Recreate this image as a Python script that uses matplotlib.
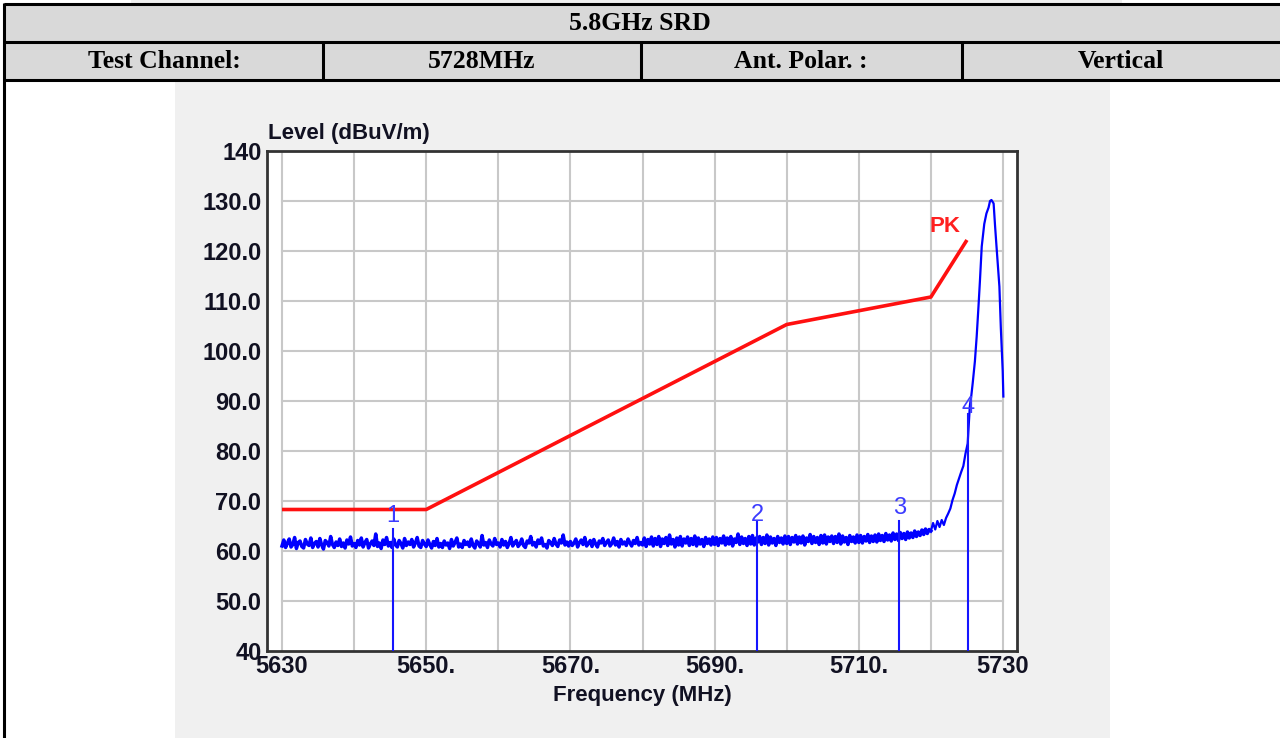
import numpy as np
import matplotlib
matplotlib.use("Agg")
import matplotlib.pyplot as plt
from matplotlib.patches import Rectangle

# ---------------- data ----------------
header_title = "5.8GHz SRD"
header_cells = ["Test Channel:", "5728MHz", "Ant. Polar. :", "Vertical"]

x_ticks = [5630, 5650, 5670, 5690, 5710, 5730]
x_tick_labels = ["5630", "5650.", "5670.", "5690.", "5710.", "5730"]
y_ticks = [40, 50, 60, 70, 80, 90, 100, 110, 120, 130, 140]
y_tick_labels = ["40", "50.0", "60.0", "70.0", "80.0", "90.0", "100.0",
                 "110.0", "120.0", "130.0", "140"]

# limit line (PK)
limit_freq = [5630, 5650, 5700, 5720, 5725]
limit_level = [68.3, 68.3, 105.3, 110.8, 122.2]

# measured trace: noise floor, 0.25 MHz sweep step, 5630 .. 5719.75 MHz
noise_start, noise_step = 5630.0, 0.25
noise_level = [
    61.0, 62.2, 60.7, 61.6, 62.4, 60.8, 61.3, 62.7, 60.5, 61.7,
    62.0, 60.9, 60.6, 62.3, 61.4, 61.1, 62.6, 60.7, 61.5, 61.9,
    60.8, 62.5, 61.2, 60.4, 62.1, 61.7, 61.0, 62.9, 61.3, 60.7,
    61.8, 61.1, 62.4, 60.9, 61.6, 60.6, 62.2, 61.4, 62.8, 61.0,
    61.5, 60.7, 62.1, 61.2, 62.6, 60.8, 61.7, 62.3, 60.6, 61.4,
    62.0, 61.1, 63.4, 60.9, 61.6, 60.5, 62.2, 61.3, 62.7, 61.0,
    61.7, 60.7, 62.4, 61.2, 60.8, 62.1, 61.5, 60.6, 62.5, 61.1,
    61.8, 61.3, 62.3, 60.8, 61.6, 62.7, 61.0, 60.7, 62.1, 61.4,
    60.9, 62.2, 61.3, 60.6, 61.9, 61.1, 62.5, 60.8, 61.5, 60.7,
    62.0, 61.2, 61.6, 60.5, 62.3, 61.0, 61.7, 62.6, 60.8, 61.4,
    60.7, 62.1, 61.3, 61.8, 60.9, 62.4, 61.1, 60.6, 62.0, 61.5,
    60.8, 63.1, 61.2, 61.7, 60.7, 62.2, 61.4, 61.0, 62.5, 61.3,
    61.6, 60.8, 62.3, 61.2, 61.9, 60.7, 61.5, 62.7, 61.0, 61.6,
    62.1, 60.9, 61.4, 62.4, 61.1, 60.7, 62.0, 61.6, 62.9, 61.2,
    61.7, 60.8, 62.2, 61.5, 62.6, 61.0, 61.3, 60.6, 62.1, 61.7,
    61.1, 62.5, 61.4, 60.9, 62.2, 61.6, 63.2, 61.2, 61.8, 61.0,
    61.9, 61.1, 61.6, 62.4, 60.8, 61.7, 62.2, 61.3, 62.7, 61.0,
    61.5, 62.1, 60.9, 62.3, 61.4, 60.8, 62.0, 61.6, 62.5, 61.1,
    61.7, 62.2, 61.0, 61.5, 62.6, 61.2, 61.9, 60.8, 62.3, 61.4,
    61.8, 61.1, 62.4, 61.6, 61.0, 62.1, 61.5, 62.7, 61.2, 61.7,
    61.2, 62.6, 60.9, 62.3, 61.4, 62.8, 61.0, 62.5, 61.3, 62.9,
    60.9, 62.4, 61.5, 62.7, 61.1, 63.2, 61.4, 62.3, 60.8, 62.6,
    61.2, 62.9, 61.0, 62.4, 61.6, 62.8, 61.1, 62.5, 61.3, 63.0,
    61.0, 62.6, 61.4, 62.3, 60.9, 62.7, 61.5, 62.4, 61.2, 62.8,
    61.3, 62.7, 61.1, 62.5, 61.6, 63.0, 61.2, 62.6, 61.4, 62.9,
    61.0, 62.4, 61.7, 63.4, 61.3, 62.8, 61.5, 62.5, 61.1, 62.9,
    61.4, 63.1, 61.2, 62.6, 61.8, 62.9, 61.3, 62.7, 61.5, 63.2,
    61.2, 62.8, 61.6, 62.5, 61.1, 62.9, 61.7, 62.6, 61.4, 63.0,
    61.5, 62.9, 61.3, 62.7, 61.8, 63.1, 61.4, 62.8, 61.6, 63.0,
    61.2, 62.6, 61.9, 63.3, 61.5, 62.9, 61.7, 62.7, 61.3, 63.1,
    61.6, 63.2, 61.4, 62.8, 61.9, 63.0, 61.5, 62.9, 61.7, 63.4,
    61.4, 63.0, 61.8, 62.7, 61.3, 63.1, 61.9, 62.8, 61.6, 63.2,
    61.7, 63.1, 61.6, 62.9, 62.0, 63.3, 61.7, 63.0, 61.9, 63.2,
    61.8, 63.4, 62.1, 63.1, 61.9, 63.5, 62.2, 63.2, 62.0, 63.6,
    62.3, 63.4, 62.1, 63.7, 62.5, 63.5, 62.3, 63.8, 62.6, 63.6,
    62.7, 64.0, 62.9, 63.8, 63.1, 64.2, 63.3, 64.4, 63.5, 64.3,
]

# measured trace: carrier skirt and peak
peak_freq = [5720.0, 5720.3, 5720.6, 5720.9, 5721.2, 5721.5, 5721.8, 5722.1,
             5722.4, 5722.7, 5723.0, 5723.3, 5723.6, 5723.9, 5724.2, 5724.5,
             5724.8, 5725.1, 5725.4, 5725.6, 5725.8, 5726.1, 5726.35, 5726.6,
             5726.8, 5727.05, 5727.4, 5727.7, 5728.0, 5728.2, 5728.4, 5728.7,
             5728.9, 5729.1, 5729.5, 5729.7, 5729.96, 5730.05]
peak_level = [64.0, 65.6, 64.3, 66.0, 64.8, 66.2, 65.2, 66.6,
              67.5, 68.5, 70.2, 71.5, 73.2, 74.5, 75.8, 77.0,
              79.5, 81.5, 89.0, 91.0, 93.6, 97.9, 102.9, 108.9,
              114.0, 120.9, 125.4, 127.5, 128.7, 130.0, 130.2, 129.5,
              125.0, 120.9, 112.9, 104.6, 96.0, 90.9]

# markers
marker_ids = ["1", "2", "3", "4"]
marker_freq = [5645.4, 5695.9, 5715.6, 5725.2]
marker_top = [64.5, 66.0, 66.0, 87.5]
marker_label_level = [67.0, 67.2, 68.6, 88.8]

# ---------------- figure ----------------
W, H = 1280, 738
fig = plt.figure(figsize=(W / 100, H / 100), dpi=100)
fig.patch.set_facecolor("white")

# background / table layer in pixel coordinates
bg = fig.add_axes([0, 0, 1, 1], zorder=0)
bg.set_xlim(0, W)
bg.set_ylim(H, 0)
bg.axis("off")

bg.add_patch(Rectangle((131, 0), 991, 3, facecolor="#efefef", edgecolor="none"))
bg.add_patch(Rectangle((175, 82), 935, 660, facecolor="#f0f0f0", edgecolor="none"))
bg.add_patch(Rectangle((4, 3), W, 77, facecolor="#d9d9d9", edgecolor="none"))
lw_tab = 2.2
for yy in (3.5, 42, 80):
    bg.plot([4, W], [yy, yy], color="black", lw=lw_tab, solid_capstyle="butt")
bg.plot([4, 4], [3, H], color="black", lw=lw_tab, solid_capstyle="butt")
for xx in (323, 641, 962):
    bg.plot([xx, xx], [42, 80], color="black", lw=lw_tab, solid_capstyle="butt")

serif = ["Liberation Serif", "DejaVu Serif"]
bg.text(640, 23, header_title, ha="center", va="center", fontsize=18.5,
        fontweight="bold", family=serif, color="black")
cell_centers = [164, 482, 801, 1121]
for cx, txt in zip(cell_centers, header_cells):
    bg.text(cx, 61.5, txt, ha="center", va="center", fontsize=18.5,
            fontweight="bold", family=serif, color="black")

# chart axes
left_px, right_px, top_px, bot_px = 267, 1017, 151, 651
ax = fig.add_axes([left_px / W, 1 - bot_px / H, (right_px - left_px) / W,
                   (bot_px - top_px) / H], zorder=1)
ax.set_facecolor("white")
px_per_mhz = (1003 - 282) / 100.0
ax.set_xlim(5630 - (282 - left_px) / px_per_mhz, 5630 + (right_px - 282) / px_per_mhz)
ax.set_ylim(40, 140)

sans = ["Liberation Sans", "DejaVu Sans"]
txt_col = "#111122"
grid_col = "#c8c8c8"

# grid only over data range
for gx in range(5630, 5731, 10):
    ax.plot([gx, gx], [40, 140], color=grid_col, lw=1.5, zorder=1)
for gy in range(50, 131, 10):
    ax.plot([5630, 5730], [gy, gy], color=grid_col, lw=1.5, zorder=1)

for s in ax.spines.values():
    s.set_color("#333333")
    s.set_linewidth(2.0)

ax.set_xticks(x_ticks)
ax.set_xticklabels(x_tick_labels)
ax.set_yticks(y_ticks)
ax.set_yticklabels(y_tick_labels)
ax.tick_params(length=0, pad=4, labelsize=17, labelcolor=txt_col)
for lab in ax.get_xticklabels() + ax.get_yticklabels():
    lab.set_fontweight("bold")
    lab.set_family(sans)
ax.tick_params(axis="x", pad=3)

# limit line
ax.plot(limit_freq, limit_level, color="#ff1010", lw=2.6, zorder=3,
        solid_capstyle="butt")
ax.text(5722.0, 125.0, "PK", color="#ff2020", fontsize=16, fontweight="bold",
        family=sans, ha="center", va="center", zorder=5)

# measured trace
noise_freq = noise_start + noise_step * np.arange(len(noise_level))
nf = np.concatenate([noise_freq, peak_freq[:1]])
nl = np.concatenate([noise_level, peak_level[:1]])
ax.plot(nf, nl, color="#0000ff", lw=2.5, zorder=4)
ax.plot(peak_freq, peak_level, color="#0000ff", lw=1.6, zorder=4)

# markers
for mid, mf, mt, ml in zip(marker_ids, marker_freq, marker_top, marker_label_level):
    ax.plot([mf, mf], [40, mt], color="#1515ff", lw=1.5, zorder=4)
    ax.text(mf, ml, mid, color="#3c3cff", fontsize=17, family=sans,
            ha="center", va="center", zorder=5)

# axis titles
ax.annotate("Level (dBuV/m)", xy=(0, 1), xycoords="axes fraction",
            xytext=(1, 5), textcoords="offset points", ha="left", va="bottom",
            fontsize=16, fontweight="bold", family=sans, color=txt_col)
ax.annotate("Frequency (MHz)", xy=(0.5, 0), xycoords="axes fraction",
            xytext=(0, -32), textcoords="offset points", ha="center", va="center",
            fontsize=16, fontweight="bold", family=sans, color=txt_col)

fig.savefig("out.png", dpi=100, facecolor=fig.get_facecolor())
